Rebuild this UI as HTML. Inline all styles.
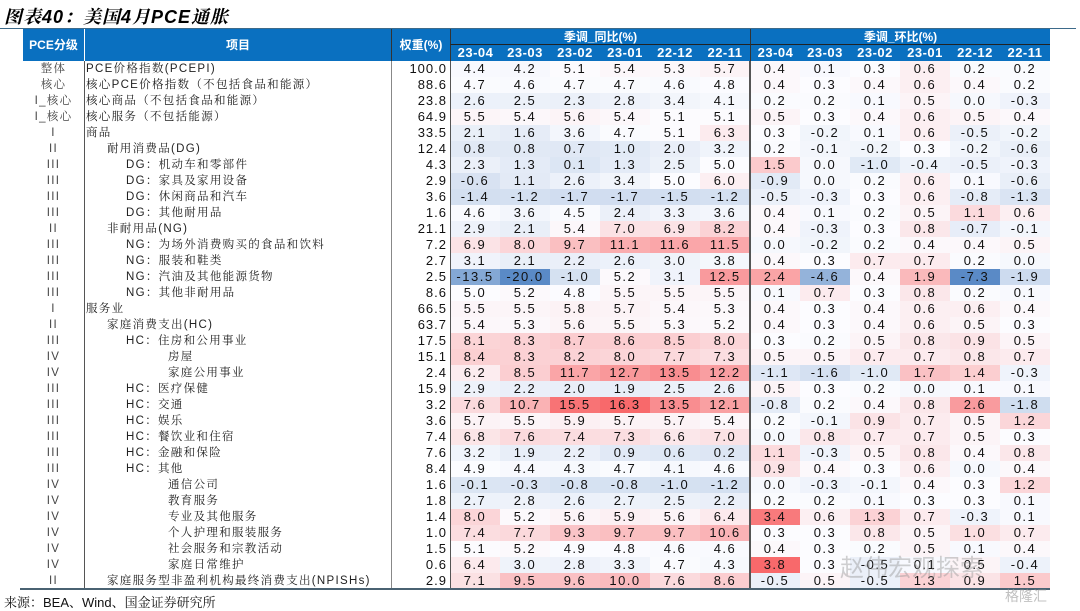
<!DOCTYPE html>
<html><head><meta charset="utf-8">
<style>
body{margin:0;width:1080px;height:609px;background:#fff;position:relative;overflow:hidden;font-family:"Liberation Sans","Noto Sans CJK SC",sans-serif;}
.a{position:absolute;box-sizing:border-box;white-space:nowrap;}
.title{left:4px;top:3px;font-size:18px;font-weight:bold;font-style:italic;font-family:"Liberation Sans","Noto Serif CJK SC",serif;color:#000;letter-spacing:1px;}
.hd{background:#0a70c0;color:#fff;font-weight:bold;font-size:12px;text-align:center;font-family:"Liberation Sans","Noto Sans CJK SC",sans-serif;}
.cell{height:16px;line-height:16px;font-size:13px;color:#111;text-align:center;letter-spacing:1.5px;}
.txt{height:16px;line-height:16px;font-size:11.5px;color:#222;font-family:"Liberation Sans","Noto Serif CJK SC",serif;letter-spacing:1.3px;}
</style></head><body>
<div class="a title">图表40：美国4月PCE通胀</div>
<div class="a" style="left:0;top:28px;width:1076px;height:1px;background:#3d6a8a"></div>
<div id="tbl"></div>
<div class="a" style="left:4px;top:592px;font-size:13px;font-family:'Liberation Sans','Noto Serif CJK SC',serif;color:#111;">来源：BEA、Wind、国金证券研究所</div>
<div class="a" style="left:840px;top:548px;font-size:24px;color:rgba(150,150,150,0.45);font-family:'Noto Sans CJK SC',sans-serif;">赵伟宏观探索</div>
<div class="a" style="left:1005px;top:586px;font-size:14px;color:rgba(150,150,150,0.6);font-family:'Noto Sans CJK SC',sans-serif;">格隆汇</div>
<script>
const periods=["23-04","23-03","23-02","23-01","22-12","22-11"];
const grades=["整体","核心","I_核心","I_核心","I","II","III","III","III","III","II","III","III","III","III","I","II","III","IV","IV","III","III","III","III","III","III","IV","IV","IV","IV","IV","IV","II"];
const items=["PCE价格指数(PCEPI)","核心PCE价格指数（不包括食品和能源）","核心商品（不包括食品和能源）","核心服务（不包括能源）","商品","耐用消费品(DG)","DG：机动车和零部件","DG：家具及家用设备","DG：休闲商品和汽车","DG：其他耐用品","非耐用品(NG)","NG：为场外消费购买的食品和饮料","NG：服装和鞋类","NG：汽油及其他能源货物","NG：其他非耐用品","服务业","家庭消费支出(HC)","HC：住房和公用事业","房屋","家庭公用事业","HC：医疗保健","HC：交通","HC：娱乐","HC：餐饮业和住宿","HC：金融和保险","HC：其他","通信公司","教育服务","专业及其他服务","个人护理和服装服务","社会服务和宗教活动","家庭日常维护","家庭服务型非盈利机构最终消费支出(NPISHs)"];
const indents=[0,0,0,0,0,1,2,2,2,2,1,2,2,2,2,0,1,2,3,3,2,2,2,2,2,2,3,3,3,3,3,3,1];
const weights=[100.0,88.6,23.8,64.9,33.5,12.4,4.3,2.9,3.6,1.6,21.1,7.2,2.7,2.5,8.6,66.5,63.7,17.5,15.1,2.4,15.9,3.2,3.6,7.4,7.6,8.4,1.6,1.8,1.4,1.0,1.5,0.6,2.9];
const yoy=[
[4.4,4.2,5.1,5.4,5.3,5.7],[4.7,4.6,4.7,4.7,4.6,4.8],[2.6,2.5,2.3,2.8,3.4,4.1],[5.5,5.4,5.6,5.4,5.1,5.1],
[2.1,1.6,3.6,4.7,5.1,6.3],[0.8,0.8,0.7,1.0,2.0,3.2],[2.3,1.3,0.1,1.3,2.5,5.0],[-0.6,1.1,2.6,3.4,5.0,6.0],
[-1.4,-1.2,-1.7,-1.7,-1.5,-1.2],[4.6,3.6,4.5,2.4,3.3,3.6],[2.9,2.1,5.4,7.0,6.9,8.2],[6.9,8.0,9.7,11.1,11.6,11.5],
[3.1,2.1,2.2,2.6,3.0,3.8],[-13.5,-20.0,-1.0,5.2,3.1,12.5],[5.0,5.2,4.8,5.5,5.5,5.5],[5.5,5.5,5.8,5.7,5.4,5.3],
[5.4,5.3,5.6,5.5,5.3,5.2],[8.1,8.3,8.7,8.6,8.5,8.0],[8.4,8.3,8.2,8.0,7.7,7.3],[6.2,8.5,11.7,12.7,13.5,12.2],
[2.9,2.2,2.0,1.9,2.5,2.6],[7.6,10.7,15.5,16.3,13.5,12.1],[5.7,5.5,5.9,5.7,5.7,5.4],[6.8,7.6,7.4,7.3,6.6,7.0],
[3.2,1.9,2.2,0.9,0.6,0.2],[4.9,4.4,4.3,4.7,4.1,4.6],[-0.1,-0.3,-0.8,-0.8,-1.0,-1.2],[2.7,2.8,2.6,2.7,2.5,2.2],
[8.0,5.2,5.6,5.9,5.6,6.4],[7.4,7.7,9.3,9.7,9.7,10.6],[5.1,5.2,4.9,4.8,4.6,4.6],[6.4,3.0,2.8,3.3,4.7,4.3],
[7.1,9.5,9.6,10.0,7.6,8.6]];
const mom=[
[0.4,0.1,0.3,0.6,0.2,0.2],[0.4,0.3,0.4,0.6,0.4,0.2],[0.2,0.2,0.1,0.5,0.0,-0.3],[0.5,0.3,0.4,0.6,0.5,0.4],
[0.3,-0.2,0.1,0.6,-0.5,-0.2],[0.2,-0.1,-0.2,0.3,-0.2,-0.6],[1.5,0.0,-1.0,-0.4,-0.5,-0.3],[-0.9,0.0,0.2,0.6,0.1,-0.6],
[-0.5,-0.3,0.3,0.6,-0.8,-1.3],[0.4,0.1,0.2,0.5,1.1,0.6],[0.4,-0.3,0.3,0.8,-0.7,-0.1],[0.0,-0.2,0.2,0.4,0.4,0.5],
[0.4,0.3,0.7,0.7,0.2,0.0],[2.4,-4.6,0.4,1.9,-7.3,-1.9],[0.1,0.7,0.3,0.8,0.2,0.1],[0.4,0.3,0.4,0.6,0.6,0.4],
[0.4,0.3,0.4,0.6,0.5,0.3],[0.3,0.2,0.5,0.8,0.9,0.5],[0.5,0.5,0.7,0.7,0.8,0.7],[-1.1,-1.6,-1.0,1.7,1.4,-0.3],
[0.5,0.3,0.2,0.0,0.1,0.1],[-0.8,0.2,0.4,0.8,2.6,-1.8],[0.2,-0.1,0.9,0.7,0.5,1.2],[0.0,0.8,0.7,0.7,0.5,0.3],
[1.1,-0.3,0.5,0.8,0.4,0.8],[0.9,0.4,0.3,0.6,0.0,0.4],[0.0,-0.3,-0.1,0.4,0.3,1.2],[0.2,0.2,0.1,0.3,0.3,0.1],
[3.4,0.6,1.3,0.7,-0.3,0.1],[0.3,0.3,0.8,0.5,1.0,0.7],[0.4,0.3,0.2,0.5,0.1,0.4],[3.8,0.3,-0.5,0.1,0.5,-0.4],
[-0.5,0.5,-0.5,1.3,0.9,1.5]];

const T=document.getElementById('tbl');
const TOP=61,RH=16;
const X={g:23,it:84,w:391,y0:450,m0:750,cw:50,end:1050};
function rowY(i){return TOP+i*RH;}
function mk(cls,l,t,w,h,txt,st){const d=document.createElement('div');d.className='a '+cls;d.style.left=l+'px';d.style.top=t+'px';if(w!=null)d.style.width=w+'px';if(h!=null)d.style.height=h+'px';if(txt!=null)d.textContent=txt;if(st)d.style.cssText+=st;T.appendChild(d);return d;}
function median(a){const s=[...a].sort((x,y)=>x-y);const n=s.length;return n%2?s[(n-1)/2]:(s[n/2-1]+s[n/2])/2;}
function mix(c1,c2,t){t=Math.max(0,Math.min(1,t));return 'rgb('+c1.map((v,i)=>Math.round(v+(c2[i]-v)*t)).join(',')+')';}
const RED=[248,105,107],BLUE=[90,138,198],WHITE=[252,252,255];
function colorScale(all){const mn=Math.min(...all),mx=Math.max(...all),md=median(all);
 return v=>{if(v>=md){return mix(WHITE,RED,mx>md?(v-md)/(mx-md):0);}return mix(WHITE,BLUE,md>mn?(md-v)/(md-mn):0);};}
const yScale=colorScale(yoy.flat());
const mScale=colorScale(mom.flat());

let h;
h=mk('hd',X.g,29,X.it-X.g,32,'PCE分级','line-height:32px');

h=mk('hd',X.it,29,X.w-X.it,32,'项目','line-height:32px;border-left:1px solid #fff');

h=mk('hd',X.w,29,X.y0-X.w,32,'权重(%)','line-height:32px;border-left:1px solid #333');

h=mk('hd',X.y0,29,300,16,'季调_同比(%)','line-height:16px;border-left:1px solid #333;border-bottom:1px solid #222');

h=mk('hd',X.m0,29,300,16,'季调_环比(%)','line-height:16px;border-left:1px solid #333;border-bottom:1px solid #222');

periods.forEach((p,j)=>{
 let e=mk('hd',X.y0+j*X.cw,45,X.cw,16,p,'line-height:16px;font-size:13px;letter-spacing:0.5px'+(j==0?';border-left:1px solid #333':''));
 
 
 e=mk('hd',X.m0+j*X.cw,45,X.cw,16,p,'line-height:16px;font-size:13px;letter-spacing:0.5px'+(j==0?';border-left:1px solid #333':''));
 
 
});

items.forEach((it,i)=>{
 const y=rowY(i);
 let e=mk('txt',X.g,y,X.it-X.g,RH,grades[i],'text-align:center;color:#444');
 
 
 e=mk('txt',X.it+2+[0,21,40,82][indents[i]],y,null,RH,it);
 
 
 e=mk('cell',X.w,y,X.y0-X.w-3,RH,weights[i].toFixed(1),'text-align:right;letter-spacing:1px');
 
 
 periods.forEach((p,j)=>{
  let c=mk('cell',X.y0+j*X.cw,y,X.cw,RH,yoy[i][j].toFixed(1),'background:'+yScale(yoy[i][j]));
  
  
  c=mk('cell',X.m0+j*X.cw,y,X.cw,RH,mom[i][j].toFixed(1),'background:'+mScale(mom[i][j]));
  
  
 });
});
const bottom=rowY(items.length);
let l;
l=mk('',X.it,TOP,1,bottom-TOP,null,'background:#555');
l=mk('',X.w,TOP,1,bottom-TOP,null,'background:#888');
l=mk('',X.y0,TOP,1,bottom-TOP,null,'background:#555');
l=mk('',X.m0-1,TOP,2,bottom-TOP,null,'background:#555');
l=mk('',20,bottom-1,X.end-20,2,null,'background:#4a6272');
</script>
</body></html>
